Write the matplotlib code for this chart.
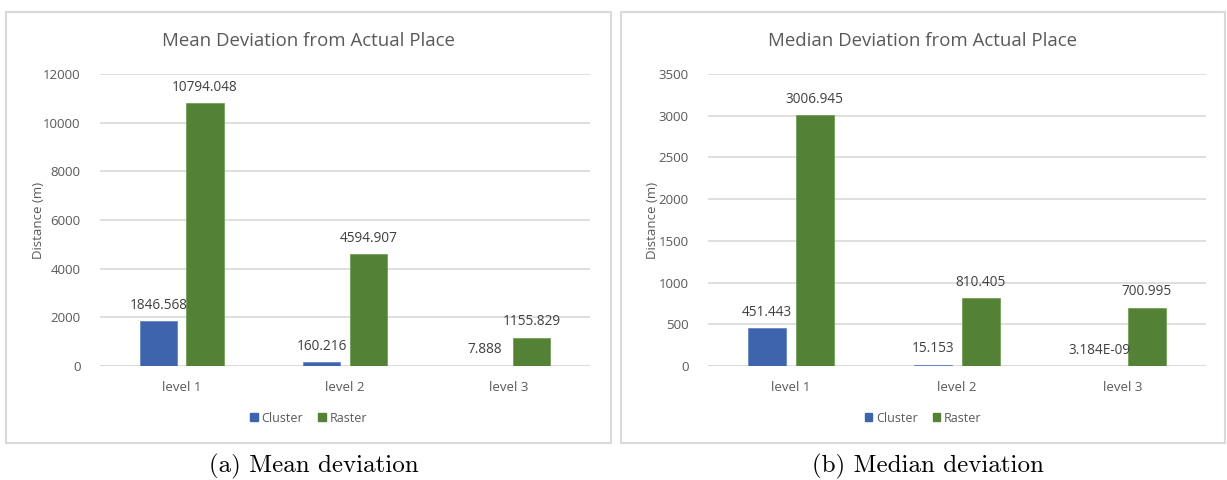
import numpy as np
import matplotlib
matplotlib.use("Agg")
import matplotlib.pyplot as plt
from matplotlib.patches import Rectangle, Patch

levels = ['level 1', 'level 2', 'level 3']
mean_cluster = [1846.568, 160.216, 7.888]
mean_raster = [10794.048, 4594.907, 1155.829]
median_cluster = [451.443, 15.153, 3.184e-09]
median_raster = [3006.945, 810.405, 700.995]
series_names = ['Cluster', 'Raster']
titles = ['Mean Deviation from Actual Place', 'Median Deviation from Actual Place']
captions = ['(a) Mean deviation', '(b) Median deviation']
y_labels = ['Distance (m)', 'Distance (m)']

BLUE = '#3F64AE'
GREEN = '#538135'
GRID = '#D9D9D9'
TXT = '#595959'
LBL = '#404040'

plt.rcParams['font.family'] = ['Open Sans', 'DejaVu Sans']

W, H = 1227, 480
fig = plt.figure(figsize=(W / 100, H / 100), dpi=100)


def fx(px):
    return px / W


def fy(py):
    return 1 - py / H


def fmt(v):
    return f"{v:.3E}" if v < 1e-3 else f"{v:.3f}"


def draw_panel(left, right, ax_x0, ax_x1, cluster, raster, ymax, ystep, title, caption, ylabel, ylab_x):
    # panel frame
    fig.patches.append(Rectangle((fx(left), fy(443)), fx(right - left), (443 - 12) / H,
                                 transform=fig.transFigure, fill=False,
                                 edgecolor=GRID, linewidth=1.5))
    ax = fig.add_axes([fx(ax_x0), fy(366), fx(ax_x1 - ax_x0), 292 / H])
    x = np.arange(len(levels))
    bw = 0.227
    off = 0.143
    b1 = ax.bar(x - off, cluster, bw, color=BLUE, edgecolor='#5B7FC0', linewidth=0.5, zorder=3)
    b2 = ax.bar(x + off, raster, bw, color=GREEN, edgecolor='#6A9A4C', linewidth=0.5, zorder=3)
    for bars, vals in ((b1, cluster), (b2, raster)):
        for b, v in zip(bars, vals):
            ax.annotate(fmt(v), (b.get_x() + b.get_width() / 2, v),
                        xytext=(0, 11.5), textcoords='offset points',
                        ha='center', va='center', fontsize=9.8, color=LBL)
    ax.set_xlim(-0.5, len(levels) - 0.5)
    ax.set_ylim(0, ymax)
    ax.set_yticks(np.arange(0, ymax + 1, ystep))
    ax.set_xticks(x)
    ax.set_xticklabels(levels)
    ax.tick_params(length=0, labelsize=9.5, colors=TXT)
    ax.tick_params(axis='x', pad=11)
    ax.tick_params(axis='y', pad=14)
    ax.grid(axis='y', color=GRID, linewidth=1.2, zorder=0)
    for s in ax.spines.values():
        s.set_visible(False)
    ax.axhline(0, color=GRID, linewidth=1.2, zorder=1)
    fig.text(fx(ylab_x), fy(220), ylabel, rotation=90, ha='center', va='center',
             fontsize=9.5, color=TXT)
    cx = (left + right) / 2
    fig.text(fx(cx), fy(41), title, ha='center', va='center', fontsize=13.4, color=TXT)
    handles = [Patch(color=BLUE), Patch(color=GREEN)]
    fig.legend(handles, series_names, loc='center', bbox_to_anchor=(fx(cx), fy(418)),
               ncol=2, frameon=False, fontsize=9, labelcolor=TXT,
               handlelength=0.6, handleheight=0.6, handletextpad=0.3, columnspacing=1.2)
    fig.text(fx(cx + 5), fy(466), caption, ha='center', va='center',
             fontsize=18, family=['cmr10', 'DejaVu Serif'], color='black')


draw_panel(6, 611, 100, 590, mean_cluster, mean_raster, 12000, 2000,
           titles[0], captions[0], y_labels[0], 38)
draw_panel(621, 1225, 708, 1206, median_cluster, median_raster, 3500, 500,
           titles[1], captions[1], y_labels[1], 653)

fig.savefig('out.png', dpi=100)
